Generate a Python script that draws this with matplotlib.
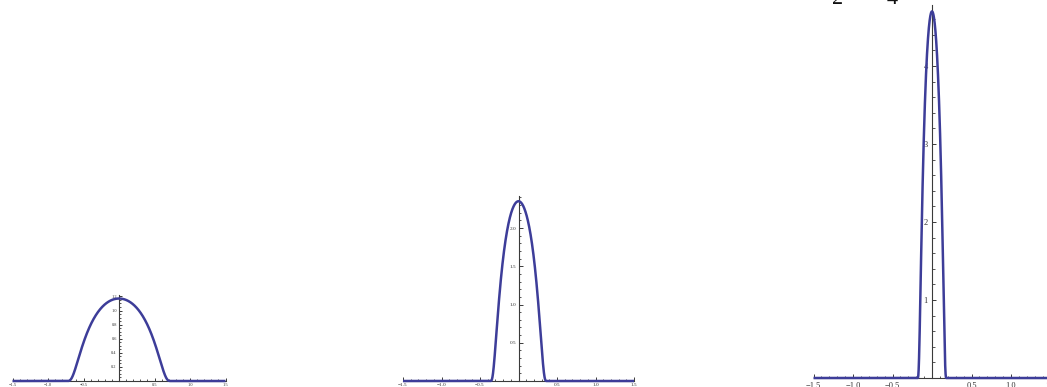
import numpy as np
import matplotlib
matplotlib.use("Agg")
import matplotlib.pyplot as plt
from matplotlib.ticker import MultipleLocator, FixedLocator, FixedFormatter

plt.rcParams["font.family"] = ["Liberation Serif", "DejaVu Serif"]

# Bump functions phi_n(x): peak height and half-width of the support per panel
peaks = [1.17, 2.35, 4.70]
radii = [0.76, 0.38, 0.19]

# Axis ranges and tick settings per panel
x_ticks = [-1.5, -1.0, -0.5, 0.5, 1.0, 1.5]
x_tick_labels = ["\u22121.5", "\u22121.0", "\u22120.5", "0.5", "1.0", "1.5"]
y_tops = [1.22, 2.42, 4.78]
y_ticks = [[0.2, 0.4, 0.6, 0.8, 1.0, 1.2],
           [0.5, 1.0, 1.5, 2.0],
           [1, 2, 3, 4]]
y_tick_labels = [["0.2", "0.4", "0.6", "0.8", "1.0", "1.2"],
                 ["0.5", "1.0", "1.5", "2.0"],
                 ["1", "2", "3", "4"]]
y_minor = [0.05, 0.1, 0.2]

W, H = 1047, 387
# pixel frames: (x at -1.5, x at 1.5, y of baseline, pixels per y unit)
frames = [(12.5, 225.5, 381.0, 70.5),
          (403.0, 634.0, 381.0, 76.5),
          (813.5, 1050.5, 378.0, 78.0)]
font_sizes = [3.2, 3.8, 6.0]
label_pads = [1.6, 1.8, 3.0]
major_len = [2.2, 2.6, 3.2]
minor_len = [1.2, 1.4, 1.8]

LINE = "#3d3d99"
AXIS = "#3a3a3a"

fig = plt.figure(figsize=(W / 100, H / 100), dpi=100)

for i in range(3):
    x0, x1, yb, ppy = frames[i]
    ytop_px = yb - y_tops[i] * ppy
    ax = fig.add_axes([x0 / W, (H - yb) / H, (x1 - x0) / W, (yb - ytop_px) / H])
    ax.set_xlim(-1.5, 1.5)
    ax.set_ylim(0, y_tops[i])
    ax.patch.set_alpha(0)

    x = np.linspace(-1.5, 1.5, 3001)
    t = x / radii[i]
    y = np.zeros_like(x)
    inside = np.abs(t) < 1
    y[inside] = peaks[i] * np.exp(1.0 - 1.0 / (1.0 - t[inside] ** 2))
    ax.plot(x, y, color=LINE, lw=1.8, clip_on=False, zorder=3,
            solid_capstyle="butt")

    for s in ("top", "right"):
        ax.spines[s].set_visible(False)
    ax.spines["left"].set_position(("data", 0))
    ax.spines["bottom"].set_position(("data", 0))
    for s in ("left", "bottom"):
        ax.spines[s].set_color(AXIS)
        ax.spines[s].set_linewidth(0.8)

    ax.xaxis.set_major_locator(FixedLocator(x_ticks))
    ax.xaxis.set_major_formatter(FixedFormatter(x_tick_labels))
    ax.xaxis.set_minor_locator(MultipleLocator(0.1))
    ax.yaxis.set_major_locator(FixedLocator(y_ticks[i]))
    ax.yaxis.set_major_formatter(FixedFormatter(y_tick_labels[i]))
    ax.yaxis.set_minor_locator(MultipleLocator(y_minor[i]))

    ax.tick_params(which="major", direction="in", length=major_len[i], width=0.7,
                   color=AXIS, labelsize=font_sizes[i], pad=label_pads[i],
                   labelcolor="#333333")
    ax.tick_params(which="minor", direction="in", length=minor_len[i], width=0.6,
                   color=AXIS)

# lower parts of the formula line above the third panel
for xp, s in ((838, "2"), (892, "4")):
    fig.text(xp / W, 1 - 4.5 / H, s, fontsize=16, ha="center", va="baseline",
             color="#111111", family=["Liberation Serif", "DejaVu Serif"])

fig.savefig("out.png", dpi=100)
